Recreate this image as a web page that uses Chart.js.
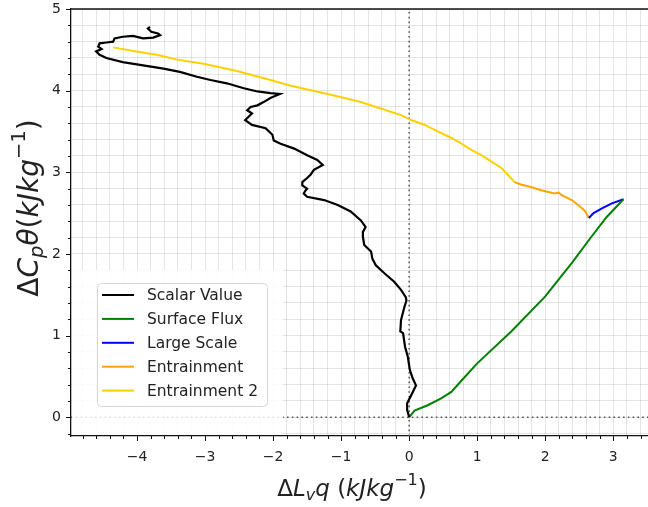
<!DOCTYPE html>
<html>
<head>
<meta charset="utf-8">
<script src="https://cdn.jsdelivr.net/npm/chart.js@4/dist/chart.umd.min.js"></script>
<style>
  html, body { margin: 0; padding: 0; background: #fff; }
  canvas { display: block; }
</style>
</head>
<body>
<canvas id="chart" width="648" height="507"></canvas>
<script>
// Moist static energy budget: ΔLvq against ΔCpθ, one path per process.
const seriesNames = ['Scalar Value', 'Surface Flux', 'Large Scale', 'Entrainment', 'Entrainment 2'];
const seriesColors = ['#000000', '#008000', '#0000ff', '#ffa500', '#ffd000'];
const seriesWidths = [2.2, 2, 2, 2, 2];

const scalarX = [0, -0.03, -0.03, 0.03, 0.10, 0.05, 0.01, -0.02, -0.06, -0.09, -0.13, -0.12, -0.07, -0.04, -0.05,
  -0.12, -0.22, -0.36, -0.49, -0.54, -0.56, -0.66, -0.68, -0.68, -0.64, -0.71, -0.86, -1.05, -1.25, -1.50,
  -1.55, -1.52, -1.50, -1.57, -1.57, -1.50, -1.45, -1.40, -1.27, -1.35, -1.50, -1.69, -1.89, -1.99, -2.01,
  -2.11, -2.31, -2.41, -2.36, -2.31, -2.38, -2.33, -2.23, -2.14, -2.04, -1.90, -2.04, -2.23, -2.43, -2.68,
  -2.92, -3.12, -3.37, -3.61, -3.91, -4.21, -4.45, -4.55, -4.60, -4.52, -4.57, -4.55, -4.45, -4.35, -4.33,
  -4.21, -4.06, -3.91, -3.76, -3.66, -3.69, -3.79, -3.84, -3.81];
const scalarY = [0, 0.09, 0.17, 0.27, 0.39, 0.48, 0.58, 0.74, 0.86, 1.03, 1.05, 1.19, 1.35, 1.43, 1.47,
  1.56, 1.66, 1.76, 1.86, 1.94, 2.03, 2.11, 2.21, 2.27, 2.33, 2.41, 2.52, 2.60, 2.66, 2.70,
  2.74, 2.78, 2.80, 2.84, 2.88, 2.93, 2.97, 3.03, 3.09, 3.15, 3.21, 3.29, 3.35, 3.39, 3.46,
  3.54, 3.58, 3.64, 3.68, 3.72, 3.76, 3.80, 3.82, 3.86, 3.91, 3.96, 3.97, 3.99, 4.03, 4.09,
  4.13, 4.17, 4.23, 4.27, 4.31, 4.35, 4.40, 4.44, 4.48, 4.51, 4.54, 4.58, 4.59, 4.60, 4.64,
  4.66, 4.67, 4.64, 4.65, 4.68, 4.70, 4.72, 4.76, 4.78];

const fluxX = [0, 0.08, 0.28, 0.47, 0.62, 0.77, 1.00, 1.50, 2.00, 2.40, 2.65, 2.90, 3.15];
const fluxY = [0, 0.08, 0.15, 0.23, 0.31, 0.45, 0.66, 1.05, 1.48, 1.90, 2.18, 2.45, 2.67];

const largeScaleX = [3.15, 2.98, 2.84, 2.71, 2.64];
const largeScaleY = [2.67, 2.62, 2.56, 2.50, 2.44];

const entrainX = [2.64, 2.59, 2.51, 2.39, 2.24, 2.20, 2.14, 2.09, 1.94, 1.79, 1.64, 1.55];
const entrainY = [2.44, 2.52, 2.58, 2.66, 2.72, 2.75, 2.74, 2.75, 2.78, 2.82, 2.85, 2.88];

const entrain2X = [1.55, 1.45, 1.36, 1.21, 1.06, 0.92, 0.77, 0.62, 0.42, 0.23, 0.03, -0.12, -0.71, -1.15,
  -1.74, -2.04, -2.53, -3.02, -3.41, -3.71, -4.01, -4.35];
const entrain2Y = [2.88, 2.97, 3.05, 3.13, 3.21, 3.27, 3.35, 3.42, 3.50, 3.58, 3.64, 3.70, 3.86, 3.95,
  4.06, 4.13, 4.24, 4.33, 4.38, 4.44, 4.48, 4.53];

const xTickLabels = [-4, -3, -2, -1, 0, 1, 2, 3];
const yTickLabels = [0, 1, 2, 3, 4, 5];
const minorStep = 0.2;
const xRange = [-4.97, 3.51];
const yRange = [-0.23, 5.0];

const FONT = 'DejaVu Sans';
const zip = (xs, ys) => xs.map((x, i) => ({ x: x, y: ys[i] }));
const seriesPoints = [zip(scalarX, scalarY), zip(fluxX, fluxY), zip(largeScaleX, largeScaleY),
  zip(entrainX, entrainY), zip(entrain2X, entrain2Y)];

function gridValues(min, max) {
  const out = [];
  for (let k = Math.ceil(min / minorStep - 1e-9); k * minorStep <= max + 1e-9; k++) {
    out.push(Math.round(k * minorStep * 10) / 10);
  }
  return out;
}
const isMajor = (v, labels) => labels.some(l => Math.abs(l - v) < 1e-6);
const fmt = v => (v < 0 ? '\u2212' + Math.abs(v) : String(v));

// Text with italic pieces and sub/superscripts, laid out left to right.
function richWidth(ctx, parts, size) {
  let w = 0;
  for (const p of parts) {
    const s = p.s ? size * 0.7 : size;
    ctx.font = (p.i ? 'italic ' : '') + s + 'px "' + FONT + '"';
    w += ctx.measureText(p.t).width;
  }
  return w;
}
function drawRich(ctx, parts, cx, cy, size) {
  let x = cx - richWidth(ctx, parts, size) / 2;
  ctx.textBaseline = 'middle';
  ctx.textAlign = 'left';
  for (const p of parts) {
    const s = p.s ? size * 0.7 : size;
    ctx.font = (p.i ? 'italic ' : '') + s + 'px "' + FONT + '"';
    let dy = 0;
    if (p.s === 'sub') dy = size * 0.25;
    if (p.s === 'sup') dy = -size * 0.38;
    ctx.fillText(p.t, x, cy + dy);
    x += ctx.measureText(p.t).width;
  }
}

const xTitle = [{ t: '\u0394' }, { t: 'L', i: 1 }, { t: 'v', i: 1, s: 'sub' }, { t: 'q', i: 1 }, { t: ' (' },
  { t: 'kJkg', i: 1 }, { t: '\u22121', s: 'sup' }, { t: ')' }];
const yTitle = [{ t: '\u0394' }, { t: 'C', i: 1 }, { t: 'p', i: 1, s: 'sub' }, { t: '\u03b8', i: 1 }, { t: '(' },
  { t: 'kJkg', i: 1 }, { t: '\u22121', s: 'sup' }, { t: ')' }];

// Pin the plot frame: axes take a fixed band and add no edge padding.
function fixBand(prop, size) {
  return s => {
    s[prop] = size;
    s.paddingTop = 0; s.paddingBottom = 0; s.paddingLeft = 0; s.paddingRight = 0;
  };
}

const decorations = {
  id: 'decorations',
  beforeDatasetsDraw(chart) {
    const { ctx, chartArea: a, scales: { x, y } } = chart;
    ctx.save();
    ctx.beginPath();
    ctx.rect(a.left, a.top, a.right - a.left, a.bottom - a.top);
    ctx.clip();
    // zero reference lines
    ctx.strokeStyle = '#555';
    ctx.lineWidth = 1.5;
    ctx.setLineDash([1.6, 3.2]);
    ctx.beginPath();
    ctx.moveTo(x.getPixelForValue(0), a.bottom);
    ctx.lineTo(x.getPixelForValue(0), a.top);
    ctx.moveTo(a.left, y.getPixelForValue(0));
    ctx.lineTo(a.right, y.getPixelForValue(0));
    ctx.stroke();
    ctx.setLineDash([]);
    // pale backdrop behind the legend corner
    ctx.fillStyle = 'rgba(255,255,255,0.82)';
    ctx.fillRect(a.left + 1, 270, 283 - a.left - 1, a.bottom - 270 - 1);
    ctx.restore();
  },
  afterDraw(chart) {
    const { ctx, chartArea: a, scales: { x, y } } = chart;
    ctx.save();
    // frame top
    ctx.strokeStyle = '#111';
    ctx.lineWidth = 1.3;
    ctx.beginPath();
    ctx.moveTo(a.left, a.top);
    ctx.lineTo(a.right, a.top);
    ctx.stroke();
    // tick marks, long for labelled values
    ctx.lineWidth = 1;
    ctx.strokeStyle = '#111';
    ctx.beginPath();
    for (const v of gridValues(xRange[0], xRange[1])) {
      const px = Math.round(x.getPixelForValue(v)) + 0.5;
      const len = isMajor(v, xTickLabels) ? 5 : 3;
      ctx.moveTo(px, a.bottom);
      ctx.lineTo(px, a.bottom + len);
    }
    for (const v of gridValues(yRange[0], yRange[1])) {
      const py = Math.round(y.getPixelForValue(v)) + 0.5;
      const len = isMajor(v, yTickLabels) ? 5 : 3;
      ctx.moveTo(a.left, py);
      ctx.lineTo(a.left - len, py);
    }
    ctx.stroke();

    // legend
    const lx = 97, ly = 283, lw = 170, lh = 123, r = 4;
    ctx.fillStyle = 'rgba(255,255,255,0.85)';
    ctx.strokeStyle = '#d6d6d6';
    ctx.lineWidth = 1;
    ctx.beginPath();
    ctx.roundRect(lx + 0.5, ly + 0.5, lw, lh, r);
    ctx.fill();
    ctx.stroke();
    ctx.font = '15.5px "' + FONT + '"';
    ctx.textBaseline = 'middle';
    ctx.textAlign = 'left';
    chart.data.datasets.forEach((ds, i) => {
      const rowY = 295 + i * 23.9;
      ctx.strokeStyle = ds.borderColor;
      ctx.lineWidth = 2;
      ctx.beginPath();
      ctx.moveTo(102, rowY);
      ctx.lineTo(134, rowY);
      ctx.stroke();
      ctx.fillStyle = '#222';
      ctx.fillText(ds.label, 147, rowY + 1);
    });

    // axis titles
    ctx.fillStyle = '#222';
    drawRich(ctx, xTitle, 352, 490, 23);
    ctx.translate(31, 208);
    ctx.rotate(-Math.PI / 2);
    drawRich(ctx, yTitle, 0, 0, 28);
    ctx.restore();
  }
};

const gridColor = 'rgba(0,0,0,0.1)';
new Chart(document.getElementById('chart'), {
  type: 'scatter',
  data: {
    datasets: seriesNames.map((name, i) => ({
      label: name,
      data: seriesPoints[i],
      showLine: true,
      borderColor: seriesColors[i],
      backgroundColor: seriesColors[i],
      borderWidth: seriesWidths[i],
      pointRadius: 0,
      tension: 0,
      fill: false
    }))
  },
  options: {
    responsive: false,
    animation: false,
    layout: { padding: { top: 9, right: 0, left: 0, bottom: 0 } },
    plugins: { legend: { display: false }, tooltip: { enabled: false } },
    scales: {
      x: {
        type: 'linear',
        min: xRange[0],
        max: xRange[1],
        afterBuildTicks: s => { s.ticks = gridValues(xRange[0], xRange[1]).map(v => ({ value: v })); },
        afterFit: fixBand('height', 71),
        grid: { color: gridColor, lineWidth: 1, drawTicks: false },
        border: { color: '#111', width: 1.3 },
        ticks: {
          autoSkip: false, maxRotation: 0, padding: 13, color: '#222',
          font: { family: FONT, size: 14 },
          callback: v => (isMajor(v, xTickLabels) ? fmt(Math.round(v)) : '')
        }
      },
      y: {
        type: 'linear',
        min: yRange[0],
        max: yRange[1],
        afterBuildTicks: s => { s.ticks = gridValues(yRange[0], yRange[1]).map(v => ({ value: v })); },
        afterFit: fixBand('width', 71),
        grid: { color: gridColor, lineWidth: 1, drawTicks: false },
        border: { color: '#111', width: 1.3 },
        ticks: {
          autoSkip: false, padding: 10, color: '#222',
          font: { family: FONT, size: 14 },
          callback: v => (isMajor(v, yTickLabels) ? fmt(Math.round(v)) : '')
        }
      }
    }
  },
  plugins: [decorations]
});
</script>
</body>
</html>
